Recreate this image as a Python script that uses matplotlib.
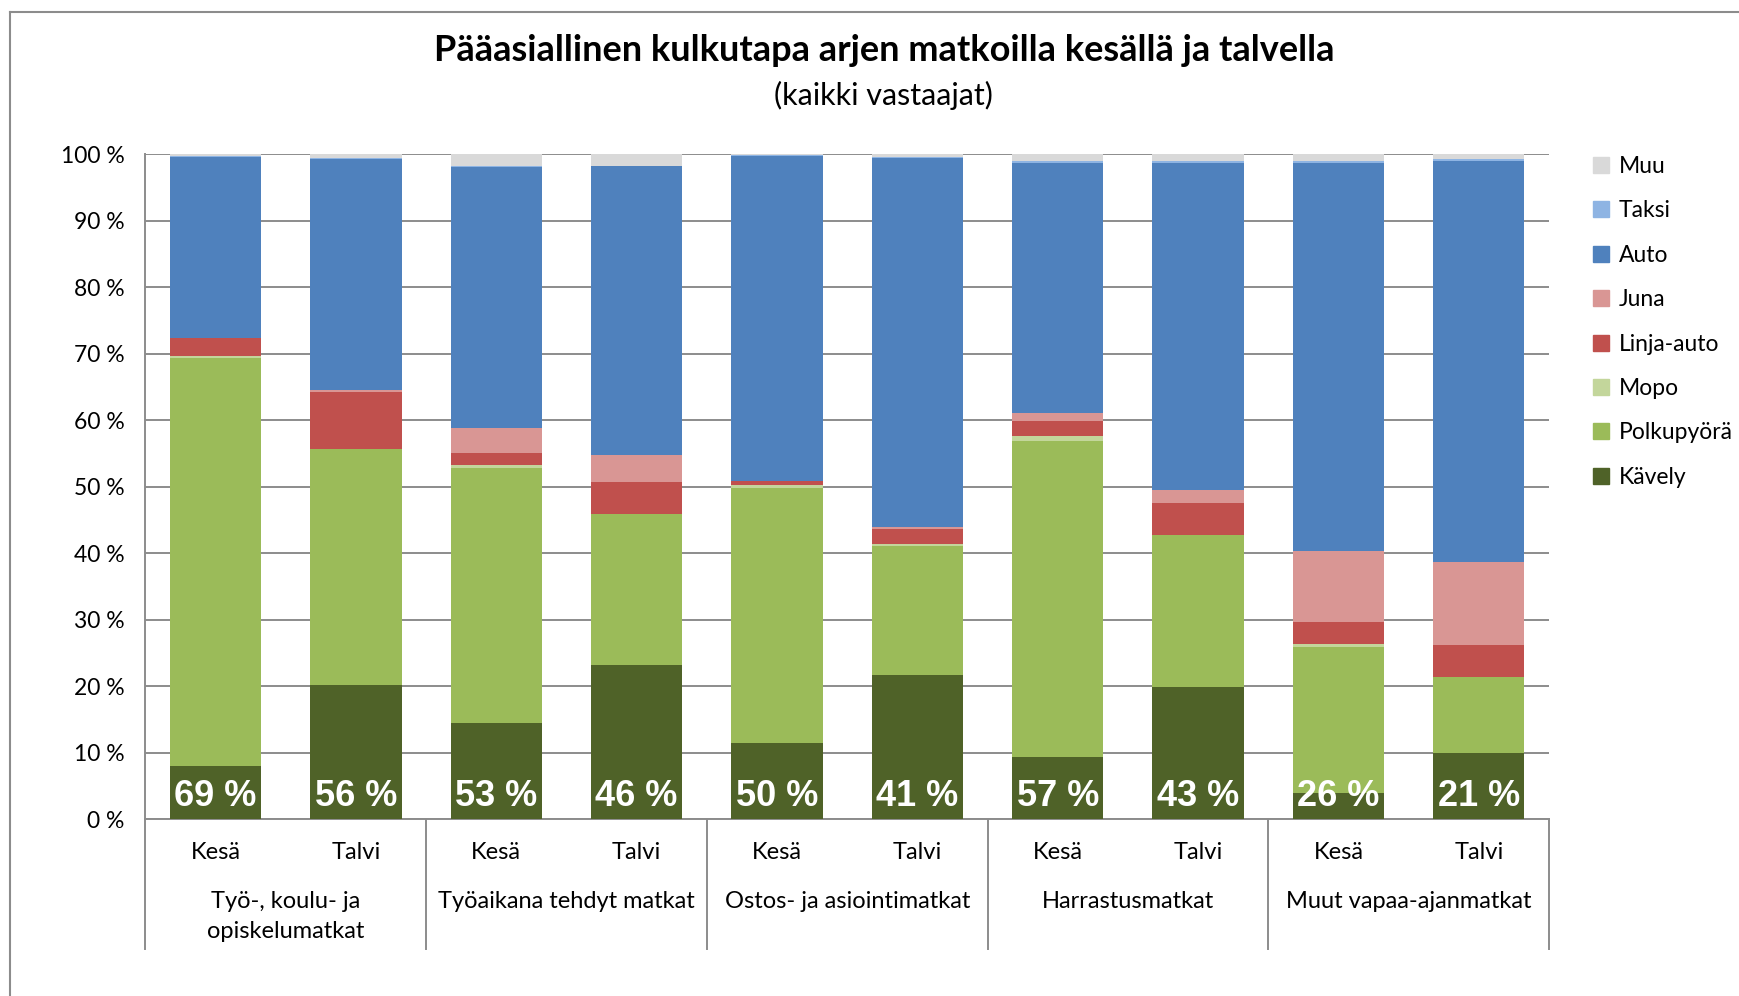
import matplotlib.pyplot as plt
import numpy as np
from matplotlib.lines import Line2D
from matplotlib.patches import Patch

# Share of trips (%) by mode, one value per bar (group x season)
seasons = ['Kesä', 'Talvi'] * 5
groups = ['Työ-, koulu- ja\nopiskelumatkat', 'Työaikana tehdyt matkat',
          'Ostos- ja asiointimatkat', 'Harrastusmatkat', 'Muut vapaa-ajanmatkat']

kavely     = [8.0, 20.1, 14.4, 23.1, 11.4, 21.7, 9.4, 19.9, 3.9, 9.9]
polkupyora = [61.4, 35.5, 38.4, 22.8, 38.4, 19.4, 47.4, 22.8, 22.0, 11.4]
mopo       = [0.3, 0.1, 0.5, 0.0, 0.4, 0.2, 0.8, 0.0, 0.4, 0.1]
linja_auto = [2.6, 8.5, 1.8, 4.8, 0.7, 2.3, 2.2, 4.8, 3.3, 4.7]
juna       = [0.1, 0.4, 3.7, 4.0, 0.0, 0.3, 1.3, 2.0, 10.7, 12.6]
auto       = [27.2, 34.7, 39.3, 43.5, 48.9, 55.6, 37.6, 49.2, 58.4, 60.2]
taksi      = [0.1, 0.1, 0.1, 0.0, 0.1, 0.1, 0.2, 0.2, 0.2, 0.4]
muu        = [0.3, 0.6, 1.8, 1.8, 0.1, 0.4, 1.1, 1.1, 1.1, 0.7]

series = [
    ('Kävely', kavely, '#4F6228'),
    ('Polkupyörä', polkupyora, '#9BBB59'),
    ('Mopo', mopo, '#C3D69B'),
    ('Linja-auto', linja_auto, '#C0504D'),
    ('Juna', juna, '#D99694'),
    ('Auto', auto, '#4F81BD'),
    ('Taksi', taksi, '#8EB4E3'),
    ('Muu', muu, '#D9D9D9'),
]

font = 'Lato'
grid_col = '#8C8C8C'

fig = plt.figure(figsize=(17.4, 9.96), dpi=100)
ax = fig.add_axes([0.0836, 0.1777, 0.8066, 0.6675])

x = np.arange(len(seasons))
bottom = np.zeros(len(x))
for name, vals, col in series:
    ax.bar(x, vals, 0.65, bottom=bottom, color=col, label=name, zorder=3)
    bottom += np.array(vals)

# walking + cycling share printed at the bar base
for xi, k, p in zip(x, kavely, polkupyora):
    ax.text(xi, 3.4, f'{k + p:.0f} %', ha='center', va='center', color='white',
            fontsize=26, fontweight='bold', family='Liberation Sans', zorder=4)

ax.set_xlim(-0.5, len(x) - 0.5)
ax.set_ylim(0, 100)
ax.set_yticks(np.arange(0, 101, 10))
ax.set_yticklabels([f'{v} %' for v in range(0, 101, 10)], family=font, fontsize=16.5)
ax.tick_params(axis='y', length=0, pad=15)
ax.set_xticks([])
ax.grid(axis='y', color=grid_col, lw=1.4, zorder=0)
for s in ['top', 'right']:
    ax.spines[s].set_visible(False)
for s in ['left', 'bottom']:
    ax.spines[s].set_color(grid_col)
    ax.spines[s].set_linewidth(1.4)

# two-level category axis
trans = ax.get_xaxis_transform()
for xi, s in zip(x, seasons):
    ax.text(xi, -0.05, s, transform=trans, ha='center', va='center',
            family=font, fontsize=17)
for i, g in enumerate(groups):
    ax.text(2 * i + 0.5, -0.108, g, transform=trans, ha='center', va='top',
            family=font, fontsize=17, linespacing=1.55)
for b in np.arange(-0.5, len(x), 2):
    ax.add_line(Line2D([b, b], [0, -0.196], transform=trans, color=grid_col,
                       lw=1.4, clip_on=False))

fig.text(0.508, 0.949, 'Pääasiallinen kulkutapa arjen matkoilla kesällä ja talvella',
         ha='center', va='center', family=font, fontsize=26, fontweight='bold')
fig.text(0.508, 0.904, '(kaikki vastaajat)', ha='center', va='center',
         family=font, fontsize=22)

handles = [Patch(color=c, label=n) for n, _, c in series][::-1]
fig.legend(handles=handles, loc='upper left', bbox_to_anchor=(0.9105, 0.8525),
           frameon=False, prop={'family': font, 'size': 16.5},
           handlelength=0.7, handleheight=0.7, handletextpad=0.4,
           labelspacing=1.02, borderaxespad=0)

# outer chart frame (left and top edges visible)
fig.add_artist(Line2D([0.006, 0.006], [0, 0.988], color=grid_col, lw=1.5))
fig.add_artist(Line2D([0.006, 1], [0.988, 0.988], color=grid_col, lw=1.5))

fig.savefig('out.png', dpi=100)
